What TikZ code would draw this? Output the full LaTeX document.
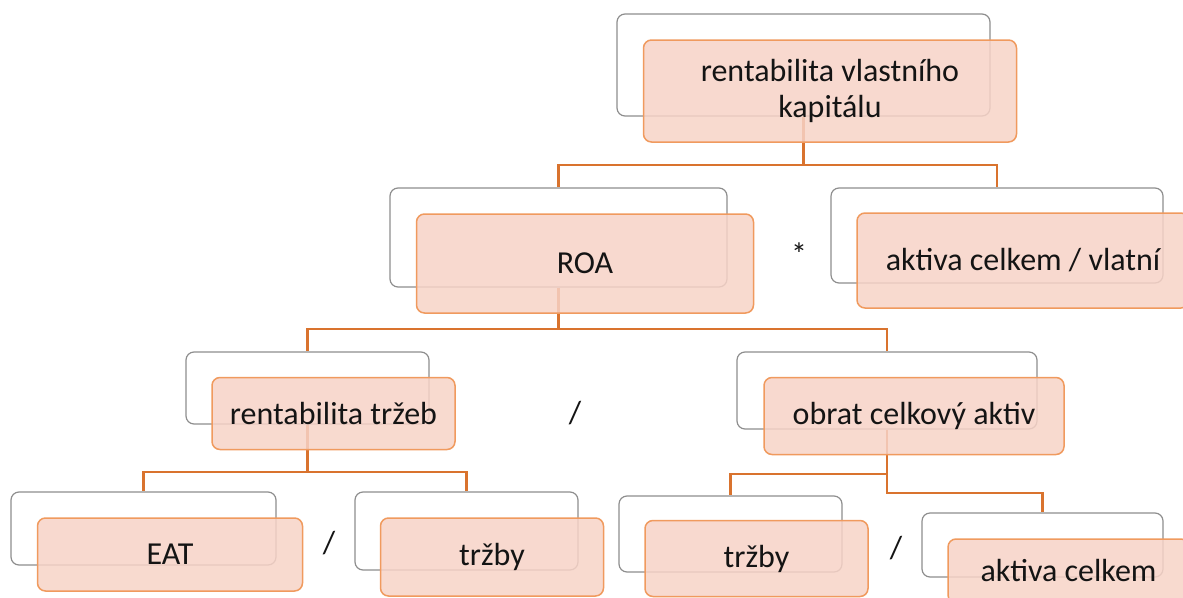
\documentclass[tikz,border=0pt]{standalone}
\usepackage{fontspec}
\setmainfont{Carlito}
\definecolor{frontfill}{HTML}{F7D3C7}
\definecolor{frontline}{HTML}{F09A5E}
\definecolor{backline}{HTML}{8E8E8E}
\definecolor{connline}{HTML}{D9732E}
\definecolor{txt}{HTML}{141414}
\begin{document}
\begin{tikzpicture}[x=1pt,y=-1pt,
  backbox/.style={draw=backline,line width=1.2pt,rounded corners=8pt,fill=white,inner sep=0pt},
  frontbox/.style={draw=frontline,line width=1.5pt,rounded corners=8pt,fill=frontfill,fill opacity=0.85,text opacity=1,draw opacity=1,inner sep=0pt,text=txt,align=center,font=\fontsize{32}{36}\selectfont},
  conn/.style={draw=connline,line width=2.8pt},
  sep/.style={text=txt,inner sep=0pt,font=\fontsize{32}{36}\selectfont}]
\useasboundingbox (0,0) rectangle (1183,597);
% back boxes
\node[backbox,minimum width=373pt,minimum height=102pt] (b1) at (803.5,65) {};
\node[backbox,minimum width=337pt,minimum height=99pt] (b2) at (558.5,237.5) {};
\node[backbox,minimum width=332pt,minimum height=95pt] (b3) at (997,235.5) {};
\node[backbox,minimum width=243pt,minimum height=72pt] (b4) at (307.5,388) {};
\node[backbox,minimum width=300pt,minimum height=77pt] (b5) at (887,390.5) {};
\node[backbox,minimum width=265pt,minimum height=73pt] (b6) at (143.5,528.5) {};
\node[backbox,minimum width=223pt,minimum height=78pt] (b7) at (466.5,531) {};
\node[backbox,minimum width=223pt,minimum height=76pt] (b8) at (730.5,534) {};
\node[backbox,minimum width=241pt,minimum height=64pt] (b9) at (1042.5,545) {};
% connectors
\draw[conn] (b1.south) -- (b1.south |- 0,165) -| (b2.north);
\draw[conn] (b1.south) -- (b1.south |- 0,165) -| (b3.north);
\draw[conn] (b2.south) -- (b2.south |- 0,329) -| (b4.north);
\draw[conn] (b2.south) -- (b2.south |- 0,329) -| (b5.north);
\draw[conn] (b4.south) -- (b4.south |- 0,472) -| (b6.north);
\draw[conn] (b4.south) -- (b4.south |- 0,472) -| (b7.north);
\draw[conn] (b5.south) -- (b5.south |- 0,474) -| (b8.north);
\draw[conn] (b5.south) -- (b5.south |- 0,493) -| (b9.north);
% front boxes
\node[frontbox,minimum width=373pt,minimum height=102pt] (f1) at (830,91) {rentabilita vlastního\\kapitálu};
\node[frontbox,minimum width=337pt,minimum height=99pt] (f2) at (585,263.5) {ROA};
\node[frontbox,minimum width=332pt,minimum height=95pt] (f3) at (1023,260.5) {aktiva celkem / vlatní};
\node[frontbox,minimum width=243pt,minimum height=72pt] (f4) at (333.5,413.5) {rentabilita tržeb};
\node[frontbox,minimum width=300pt,minimum height=77pt] (f5) at (914,416) {obrat celkový aktiv};
\node[frontbox,minimum width=265pt,minimum height=73pt] (f6) at (170,554.5) {EAT};
\node[frontbox,minimum width=223pt,minimum height=78pt] (f7) at (492,557) {tržby};
\node[frontbox,minimum width=223pt,minimum height=76pt] (f8) at (756.5,558.5) {tržby};
\node[frontbox,minimum width=241pt,minimum height=64pt] (f9) at (1068.5,571) {aktiva celkem};
% operators
\node[sep] (s1) at (799,254) {*};
\node[sep] (s2) at (575,413) {/};
\node[sep] (s3) at (329,543) {/};
\node[sep] (s4) at (896,548) {/};
\end{tikzpicture}
\end{document}
